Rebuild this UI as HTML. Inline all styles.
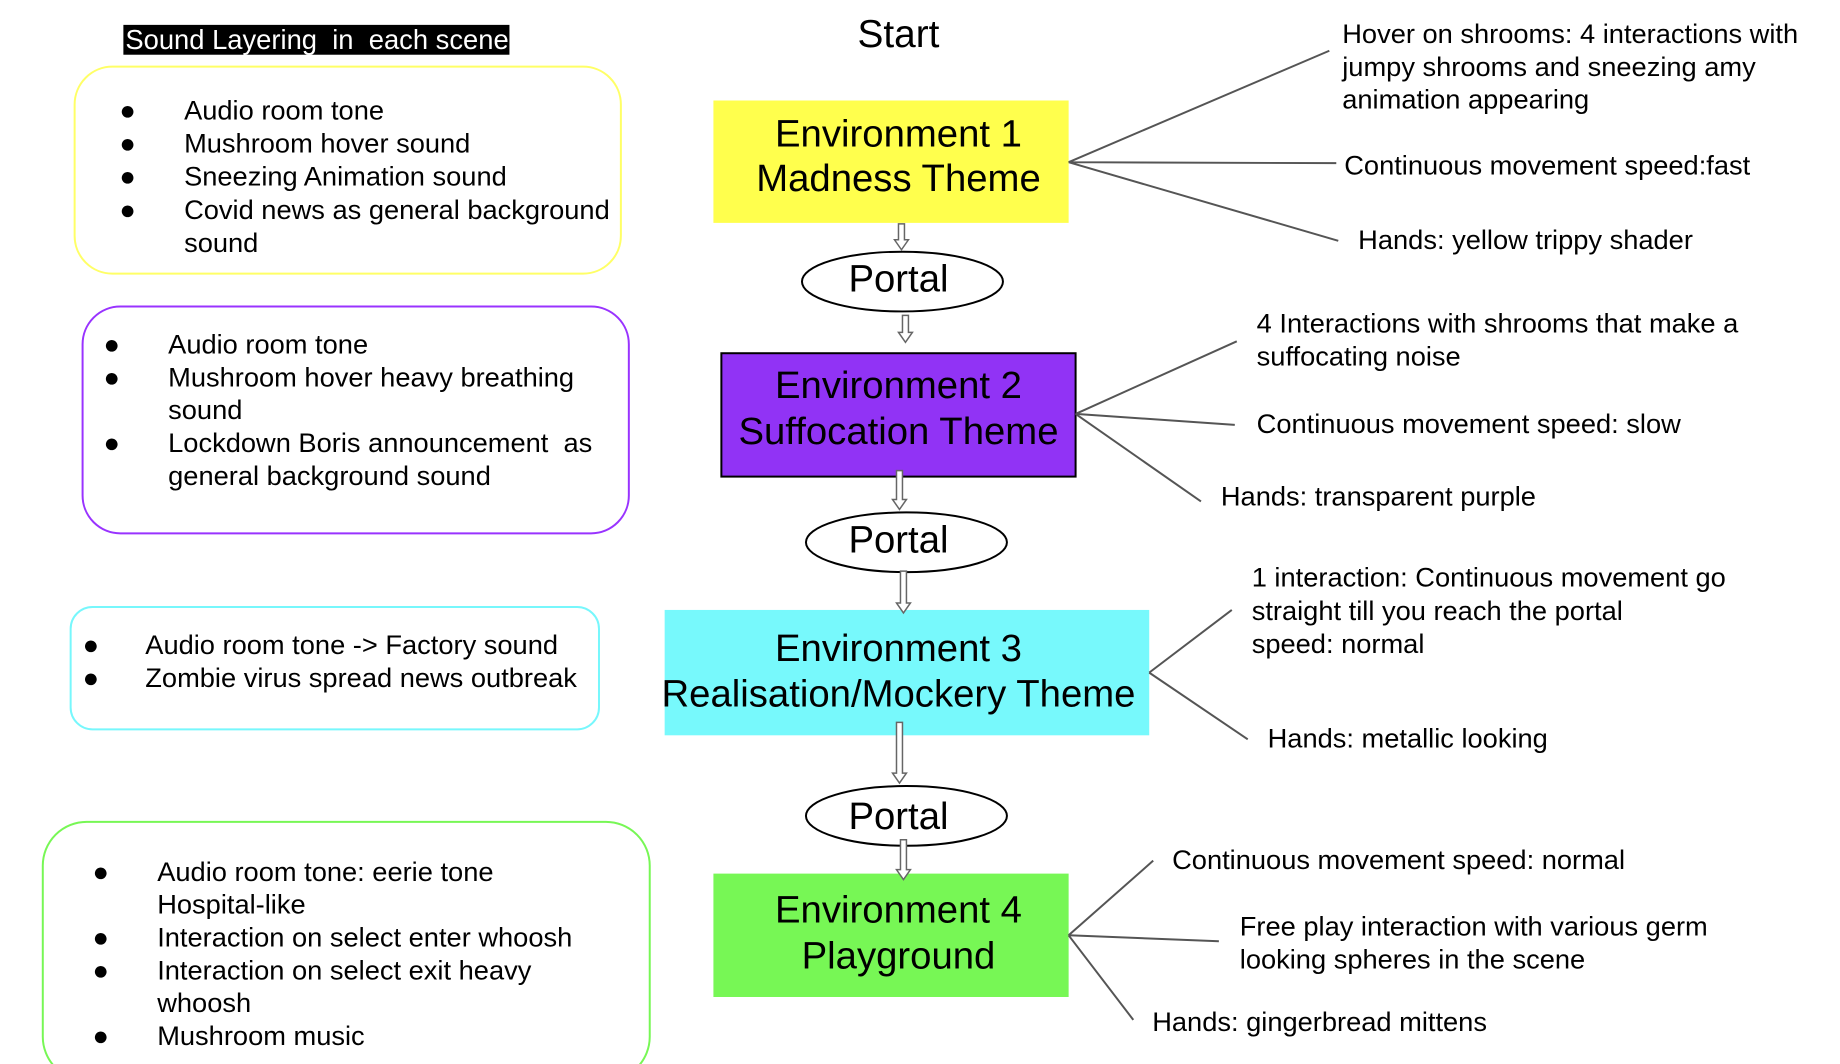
<!DOCTYPE html>
<html><head><meta charset="utf-8"><style>
html,body{margin:0;padding:0;background:#fff;}
svg{display:block;font-family:"Liberation Sans",Arial,sans-serif;}
.t{font-size:27.4px;fill:#000;dominant-baseline:middle;}
.b{font-size:38.5px;fill:#000;text-anchor:middle;dominant-baseline:middle;}
.ln{stroke:#555;stroke-width:2;fill:none;}
.ar{fill:#fff;stroke:#666;stroke-width:1.5;}
</style></head><body>
<svg width="1840" height="1064" viewBox="0 0 1840 1064" xmlns="http://www.w3.org/2000/svg">
<g transform="scale(0.995)">
<!-- title -->
<rect x="124" y="25" width="388" height="30" fill="#000"/>
<text x="126" y="42" xml:space="preserve" style="font-size:27.5px;fill:#fff;dominant-baseline:middle">Sound Layering  in  each scene</text>
<text x="903" y="37" class="b" style="font-size:39px">Start</text>

<g transform="translate(0,2)">
<!-- left boxes -->
<rect x="75" y="65" width="549" height="208" rx="38" fill="none" stroke="#ffff66" stroke-width="2"/>
<text x="120" y="111" class="t">●</text><text x="185" y="111" class="t">Audio room tone</text>
<text x="120" y="144" class="t">●</text><text x="185" y="144" class="t">Mushroom hover sound</text>
<text x="120" y="177" class="t">●</text><text x="185" y="177" class="t">Sneezing Animation sound</text>
<text x="120" y="211" class="t">●</text><text x="185" y="211" class="t">Covid news as general background</text>
<text x="185" y="244" class="t">sound</text>

<rect x="83" y="306" width="549" height="228" rx="38" fill="none" stroke="#9933ff" stroke-width="2"/>
<text x="104" y="346" class="t">●</text><text x="169" y="346" class="t">Audio room tone</text>
<text x="104" y="379" class="t">●</text><text x="169" y="379" class="t">Mushroom hover heavy breathing</text>
<text x="169" y="412" class="t">sound</text>
<text x="104" y="445" class="t">●</text><text x="169" y="445" class="t" xml:space="preserve">Lockdown Boris announcement  as</text>
<text x="169" y="478" class="t">general background sound</text>

<rect x="71" y="608" width="531" height="123" rx="22" fill="none" stroke="#77f7fc" stroke-width="2"/>
<text x="83" y="648" class="t">●</text><text x="146" y="648" class="t">Audio room tone -&gt; Factory sound</text>
<text x="83" y="681" class="t">●</text><text x="146" y="681" class="t">Zombie virus spread news outbreak</text>

<rect x="43" y="824" width="610" height="260" rx="44" fill="none" stroke="#77f755" stroke-width="2"/>
<text x="93" y="876" class="t">●</text><text x="158" y="876" class="t">Audio room tone: eerie tone</text>
<text x="158" y="909" class="t">Hospital-like</text>
<text x="93" y="942" class="t">●</text><text x="158" y="942" class="t">Interaction on select enter whoosh</text>
<text x="93" y="975" class="t">●</text><text x="158" y="975" class="t">Interaction on select exit heavy</text>
<text x="158" y="1008" class="t">whoosh</text>
<text x="93" y="1041" class="t">●</text><text x="158" y="1041" class="t">Mushroom music</text>
</g>

<!-- env boxes -->
<rect x="717" y="101" width="357" height="123" fill="#ffff4d"/>
<text x="903" y="137" class="b">Environment 1</text>
<text x="903" y="182" class="b">Madness Theme</text>

<rect x="725" y="355" width="356" height="124" fill="#9133f5" stroke="#000" stroke-width="2"/>
<text x="903" y="390" class="b">Environment 2</text>
<text x="903" y="436" class="b">Suffocation Theme</text>

<rect x="668" y="613" width="487" height="126" fill="#77f9fc"/>
<text x="903" y="654" class="b">Environment 3</text>
<text x="903" y="700" class="b">Realisation/Mockery Theme</text>

<rect x="717" y="878" width="357" height="124" fill="#77f755"/>
<text x="903" y="917" class="b">Environment 4</text>
<text x="903" y="963" class="b">Playground</text>

<!-- portals -->
<ellipse cx="907" cy="283" rx="101" ry="30" fill="#fff" stroke="#000" stroke-width="2"/>
<text x="903" y="283" class="b">Portal</text>
<ellipse cx="911" cy="545" rx="101" ry="30" fill="#fff" stroke="#000" stroke-width="2"/>
<text x="903" y="545" class="b">Portal</text>
<ellipse cx="911" cy="820" rx="101" ry="30" fill="#fff" stroke="#000" stroke-width="2"/>
<text x="903" y="823" class="b">Portal</text>

<!-- arrows -->
<path class="ar" d="M903,225 h6 v16 h4 l-7,10 l-7,-10 h4 z"/>
<path class="ar" d="M907,317 h6 v17 h4 l-7,10 l-7,-10 h4 z"/>
<path class="ar" d="M901,473 h6 v29 h4 l-7,10 l-7,-10 h4 z"/>
<path class="ar" d="M905,574 h6 v32 h4 l-7,10 l-7,-10 h4 z"/>
<path class="ar" d="M901,726 h6 v51 h4 l-7,10 l-7,-10 h4 z"/>
<path class="ar" d="M905,844 h6 v30 h4 l-7,10 l-7,-10 h4 z"/>

<!-- connectors -->
<path class="ln" d="M1074,163 L1336,51 M1074,163 L1343,164 M1074,163 L1345,242"/>
<path class="ln" d="M1081,416 L1243,343 M1081,416 L1241,427 M1081,416 L1207,504"/>
<path class="ln" d="M1155,676 L1238,613 M1155,676 L1254,743"/>
<path class="ln" d="M1074,940 L1159,865 M1074,940 L1225,946 M1074,940 L1139,1025"/>

<g transform="translate(0,2)">
<text x="1349" y="34" class="t">Hover on shrooms: 4 interactions with</text>
<text x="1349" y="67" class="t">jumpy shrooms and sneezing amy</text>
<text x="1349" y="100" class="t">animation appearing</text>
<text x="1351" y="166" class="t">Continuous movement speed:fast</text>
<text x="1365" y="241" class="t">Hands: yellow trippy shader</text>

<text x="1263" y="325" class="t">4 Interactions with shrooms that make a</text>
<text x="1263" y="358" class="t">suffocating noise</text>
<text x="1263" y="426" class="t">Continuous movement speed: slow</text>
<text x="1227" y="499" class="t">Hands: transparent purple</text>

<text x="1258" y="580" class="t">1 interaction: Continuous movement go</text>
<text x="1258" y="614" class="t">straight till you reach the portal</text>
<text x="1258" y="647" class="t">speed: normal</text>
<text x="1274" y="742" class="t">Hands: metallic looking</text>

<text x="1178" y="864" class="t">Continuous movement speed: normal</text>
<text x="1246" y="931" class="t">Free play interaction with various germ</text>
<text x="1246" y="964" class="t">looking spheres in the scene</text>
<text x="1158" y="1027" class="t">Hands: gingerbread mittens</text>
</g>
</g>
</svg>
</body></html>
